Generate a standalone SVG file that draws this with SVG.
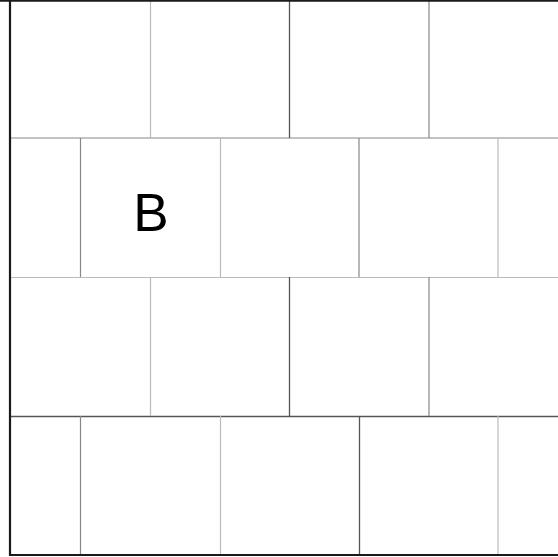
<svg xmlns="http://www.w3.org/2000/svg" width="558" height="557" viewBox="0 0 558 557">
<style>
.d{stroke:#555;stroke-width:1.3}
.m{stroke:#888;stroke-width:1.2}
.l{stroke:#bbb;stroke-width:1.2}
.b{stroke:#1a1a1a;stroke-width:2.2}
</style>
<rect width="558" height="557" fill="#fff"/>
<g id="grid" fill="none">
<line class="m" x1="10" y1="138" x2="558" y2="138"/>
<line class="l" x1="10" y1="277.5" x2="558" y2="277.5"/>
<line class="d" x1="10" y1="416.5" x2="558" y2="416.5"/>
<line class="l" x1="150.5" y1="0" x2="150.5" y2="138"/>
<line class="d" x1="289.5" y1="0" x2="289.5" y2="138"/>
<line class="m" x1="429" y1="0" x2="429" y2="138"/>
<line class="m" x1="80.5" y1="138" x2="80.5" y2="277"/>
<line class="l" x1="220.5" y1="138" x2="220.5" y2="277"/>
<line class="m" x1="359" y1="138" x2="359" y2="277"/>
<line class="l" x1="498" y1="138" x2="498" y2="277"/>
<line class="l" x1="150.5" y1="277" x2="150.5" y2="416"/>
<line class="d" x1="289.5" y1="277" x2="289.5" y2="416"/>
<line class="m" x1="429" y1="277" x2="429" y2="416"/>
<line class="m" x1="80.5" y1="416" x2="80.5" y2="555"/>
<line class="l" x1="220.5" y1="416" x2="220.5" y2="555"/>
<line class="d" x1="359.5" y1="416" x2="359.5" y2="555"/>
<line class="l" x1="498" y1="416" x2="498" y2="555"/>
<line class="b" x1="0" y1="0.6" x2="558" y2="0.6"/>
<line class="b" x1="10" y1="0" x2="10" y2="556"/>
<line class="b" x1="9" y1="555" x2="558" y2="555"/>
</g>
<text x="151" y="231" font-family="Liberation Sans, Arial, sans-serif" font-size="53" text-anchor="middle" fill="#000">B</text>
</svg>
